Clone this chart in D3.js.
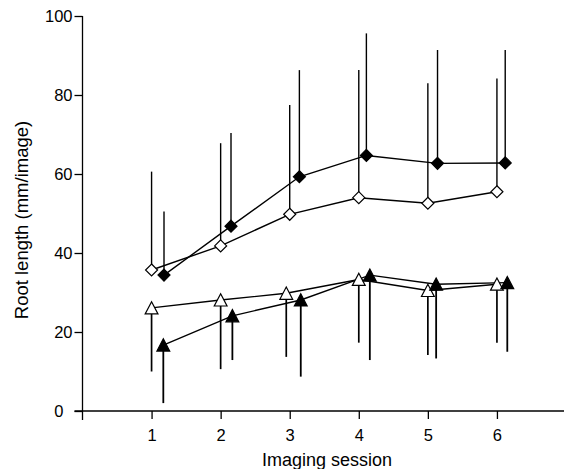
<!DOCTYPE html>
<html>
<head>
<meta charset="utf-8">
<script src="https://cdn.jsdelivr.net/npm/d3@7"></script>
<style>
  html, body { margin: 0; padding: 0; background: #fff; }
  svg { display: block; }
  text { font-family: "Liberation Sans", Arial, Helvetica, sans-serif; fill: #000; }
</style>
</head>
<body>
<svg id="chart" width="564" height="469"></svg>
<script>
// ---- data ----
const sessions = [1, 2, 3, 4, 5, 6];
const yTicks = [0, 20, 40, 60, 80, 100];

// open diamonds (upper error bars)
const openDiamondX = [1, 2, 3, 4, 5, 6];
const openDiamondMean = [35.7, 41.8, 49.8, 54.0, 52.6, 55.5];
const openDiamondUpper = [60.6, 67.8, 77.5, 86.3, 83.0, 84.2];

// filled diamonds (upper error bars)
const filledDiamondX = [1.18, 2.15, 3.14, 4.11, 5.14, 6.12];
const filledDiamondMean = [34.4, 46.8, 59.3, 64.7, 62.7, 62.8];
const filledDiamondUpper = [50.5, 70.4, 86.3, 95.6, 91.4, 91.4];

// open triangles (lower error bars)
const openTriX = [1, 2, 2.95, 4, 5, 6];
const openTriMean = [26.1, 28.1, 29.8, 33.3, 30.5, 32.1];
const openTriLower = [10.0, 10.6, 13.7, 17.3, 14.2, 17.3];

// filled triangles (lower error bars)
const filledTriX = [1.17, 2.17, 3.16, 4.16, 5.12, 6.15];
const filledTriMean = [16.7, 24.1, 28.1, 34.4, 32.1, 32.5];
const filledTriLower = [2.0, 12.9, 8.7, 12.9, 13.3, 15.0];

// ---- chart ----
const svg = d3.select("#chart");
const x = d3.scaleLinear().domain([0, 7]).range([82.5, 566]);
const y = d3.scaleLinear().domain([0, 100]).range([411, 16]);

const axisColor = "#000";

// y axis
const gy = svg.append("g").attr("transform", `translate(${x(0)},0)`)
  .call(d3.axisLeft(y).tickValues(yTicks).tickFormat(d3.format("d")).tickSize(8).tickSizeOuter(0).tickPadding(3));
gy.select(".domain").remove();
gy.selectAll(".tick line").attr("stroke", axisColor).attr("stroke-width", 1.3);
gy.selectAll(".tick text").attr("font-size", 16.5)
  .attr("font-family", '"Liberation Sans", Arial, sans-serif')
  .attr("x", d => d === 0 ? -19 : -10);
svg.append("line")
  .attr("x1", x(0)).attr("x2", x(0))
  .attr("y1", y(100)).attr("y2", y(0) + 9)
  .attr("stroke", axisColor).attr("stroke-width", 1.3);

// x axis
const gx = svg.append("g").attr("transform", `translate(0,${y(0)})`)
  .call(d3.axisBottom(x).tickValues(sessions).tickFormat(d3.format("d")).tickSize(8).tickSizeOuter(0));
gx.select(".domain").remove();
gx.selectAll(".tick line").attr("stroke", axisColor).attr("stroke-width", 1.3);
gx.selectAll(".tick text").attr("font-size", 16.5)
  .attr("font-family", '"Liberation Sans", Arial, sans-serif')
  .attr("y", 29.7).attr("dy", 0);
svg.append("line")
  .attr("x1", x(0) - 8).attr("x2", 564)
  .attr("y1", y(0)).attr("y2", y(0))
  .attr("stroke", axisColor).attr("stroke-width", 1.3);

// axis titles
svg.append("text")
  .attr("x", 327).attr("y", 466)
  .attr("text-anchor", "middle").attr("font-size", 18)
  .text("Imaging session");
svg.append("text")
  .attr("transform", `translate(28,220) rotate(-90)`)
  .attr("text-anchor", "middle").attr("font-size", 18.5)
  .text("Root length (mm/image)");

// ---- series ----
function build(xs, means, ends) {
  return xs.map((v, i) => ({ x: v, m: means[i], e: ends[i] }));
}
const series = [
  { data: build(openDiamondX, openDiamondMean, openDiamondUpper), shape: "diamond", fill: "#fff", barW: 1.4 },
  { data: build(filledDiamondX, filledDiamondMean, filledDiamondUpper), shape: "diamond", fill: "#000", barW: 1.4 },
  { data: build(openTriX, openTriMean, openTriLower), shape: "triangle", fill: "#fff", barW: 1.7 },
  { data: build(filledTriX, filledTriMean, filledTriLower), shape: "triangle", fill: "#000", barW: 1.8 }
];

const line = d3.line().x(d => x(d.x)).y(d => y(d.m));

// error bars
series.forEach(s => {
  svg.append("g").selectAll("line").data(s.data).join("line")
    .attr("x1", d => x(d.x)).attr("x2", d => x(d.x))
    .attr("y1", d => y(d.m)).attr("y2", d => y(d.e))
    .attr("stroke", "#000").attr("stroke-width", s.barW);
});
// connecting lines
series.forEach(s => {
  svg.append("path").datum(s.data)
    .attr("d", line).attr("fill", "none")
    .attr("stroke", "#000").attr("stroke-width", 1.4);
});
// markers
const diamondPath = "M0,-6L6,0L0,6L-6,0Z";
const trianglePath = "M0,-6.2L6.4,6L-6.4,6Z";
series.forEach(s => {
  svg.append("g").selectAll("path").data(s.data).join("path")
    .attr("transform", d => `translate(${x(d.x)},${y(d.m)})`)
    .attr("d", s.shape === "diamond" ? diamondPath : trianglePath)
    .attr("fill", s.fill).attr("stroke", "#000").attr("stroke-width", 1.2)
    .attr("stroke-linejoin", "miter");
});
</script>
</body>
</html>
